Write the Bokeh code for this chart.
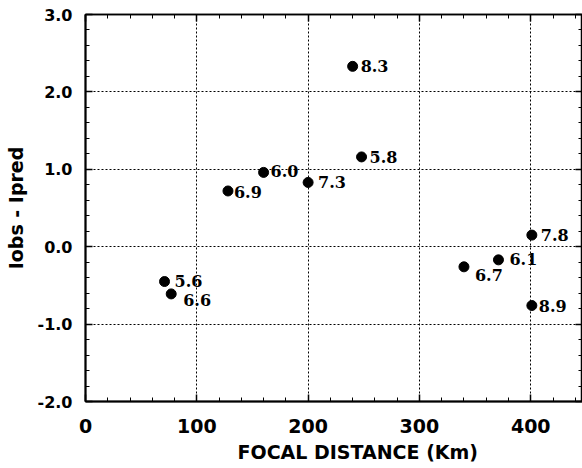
from bokeh.plotting import figure
from bokeh.models import (ColumnDataSource, LinearAxis, SingleIntervalTicker,
                          NumeralTickFormatter, Range1d, Title)
from bokeh.embed import file_html
from bokeh.resources import INLINE
from bokeh.core.properties import value

# data
distance = [240, 248, 160, 128, 200, 401, 371, 340, 401, 71, 77]
residual = [2.33, 1.16, 0.96, 0.72, 0.83, 0.15, -0.17, -0.26, -0.76, -0.45, -0.61]
magnitude = ["8.3", "5.8", "6.0", "6.9", "7.3", "7.8", "6.1", "6.7", "8.9", "5.6", "6.6"]
x_title = "FOCAL DISTANCE (Km)"
y_title = "Iobs - Ipred"

# label placement (pixels, y down)
dx = [8, 8, 7, 6, 10, 9, 11, 11, 7, 10, 12]
dy = [0, 0, -1, 1, 0, 0, -1, 8, 0, -1, 6]

src = ColumnDataSource(dict(x=distance, y=residual, t=magnitude, dx=dx, dy=dy))

p = figure(width=582, height=468, output_backend="svg", toolbar_location=None,
           x_range=Range1d(0, 446.5), y_range=Range1d(-2.0, 3.0),
           x_axis_location=None, y_axis_location=None,
           min_border_left=85, min_border_right=0, min_border_top=14, min_border_bottom=67)
p.background_fill_color = "white"
p.border_fill_color = "white"
p.outline_line_color = "black"
p.outline_line_width = 1.5

xt = SingleIntervalTicker(interval=100, num_minor_ticks=5)
yt = SingleIntervalTicker(interval=1, num_minor_ticks=5)

def style(ax, labels=True):
    ax.axis_line_color = "black"
    ax.axis_line_width = 2
    ax.major_tick_in = 7
    ax.major_tick_out = 0
    ax.minor_tick_in = 4
    ax.minor_tick_out = 0
    ax.major_tick_line_width = 1.5
    ax.major_tick_line_color = "black"
    ax.minor_tick_line_color = "black"
    ax.major_label_text_font = "DejaVu Sans"
    ax.major_label_text_font_style = "bold"
    ax.major_label_text_font_size = "16px"
    ax.major_label_text_color = "black"
    ax.axis_label_text_font = "DejaVu Sans"
    ax.axis_label_text_font_style = "bold"
    ax.axis_label_text_font_size = "19px"
    ax.axis_label_text_color = "black"
    if not labels:
        ax.major_label_text_font_size = "0px"
        ax.major_label_text_color = None

bx = LinearAxis(ticker=xt)
style(bx)
bx.major_label_text_font_size = "19px"
bx.major_label_standoff = 17
p.add_layout(bx, "below")

# x-axis title, set slightly right of centre as in the original
xtitle = Title(text=x_title, align="left", offset=152, standoff=6,
               text_font="DejaVu Sans", text_font_style="bold",
               text_font_size="19px", text_color="black")
p.add_layout(xtitle, "below")

ly = LinearAxis(ticker=yt, axis_label=y_title,
                formatter=NumeralTickFormatter(format="0.0"))
style(ly)
ly.major_label_standoff = 13
ly.axis_label_standoff = 8
p.add_layout(ly, "left")

tx = LinearAxis(ticker=xt)
style(tx, labels=False)
tx.axis_line_width = 1.5
p.add_layout(tx, "above")

ry = LinearAxis(ticker=yt)
style(ry, labels=False)
ry.axis_line_width = 1.5
p.add_layout(ry, "right")

p.xgrid.ticker = xt
p.ygrid.ticker = yt
for g in (p.xgrid, p.ygrid):
    g.grid_line_color = "black"
    g.grid_line_dash = "2 2"
    g.grid_line_width = 1

p.scatter("x", "y", source=src, size=10, color="black")
p.text("x", "y", text="t", source=src, x_offset="dx", y_offset="dy",
       text_font=value("DejaVu Serif"), text_font_style="bold",
       text_font_size="16px", text_baseline="middle", text_align="left",
       text_color="black")

open("out.html", "w").write(file_html(p, INLINE))
